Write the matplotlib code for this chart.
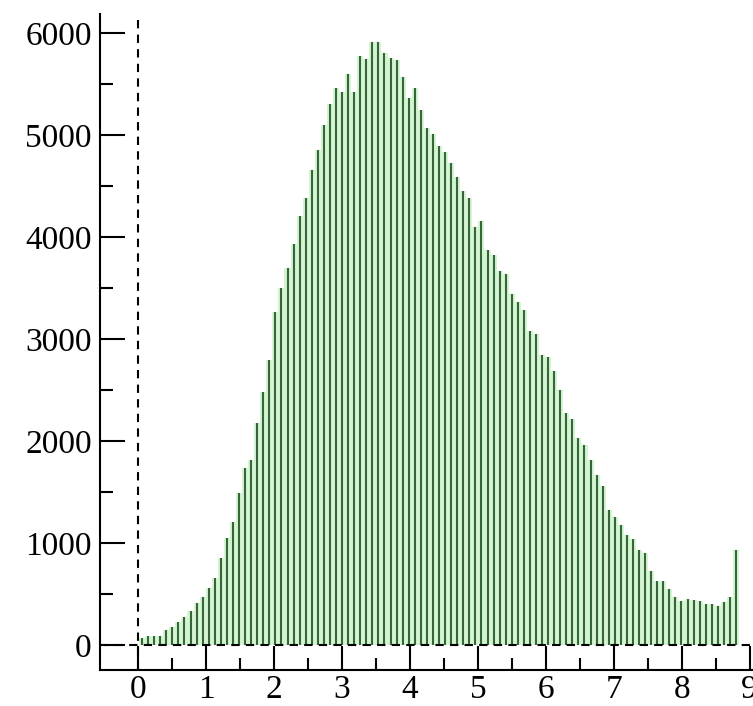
import numpy as np
import matplotlib
matplotlib.use("Agg")
import matplotlib.pyplot as plt
from matplotlib.ticker import MultipleLocator, FixedLocator

# bin centres run from ~0.055 to ~8.8 (99 bins)
x_first = 0.055
x_last = 8.80

# counts, left to right
counts = [
    65, 85, 85, 85, 147, 180, 229, 278, 333, 415,
    474, 556, 654, 850, 1046, 1203, 1487, 1732, 1814, 2173,
    2477, 2794, 3262, 3497, 3693, 3928, 4206, 4385, 4657, 4853,
    5098, 5304, 5458, 5422, 5600, 5419, 5777, 5746, 5912, 5912,
    5808, 5755, 5732, 5572, 5360, 5463, 5245, 5073, 5008, 4888,
    4833, 4727, 4591, 4451, 4385, 4101, 4162, 3870, 3827, 3670,
    3634, 3438, 3360, 3282, 3080, 3046, 2843, 2827, 2690, 2500,
    2277, 2219, 2026, 1965, 1810, 1671, 1555, 1324, 1258, 1176,
    1078, 1042, 931, 899, 728, 630, 627, 552, 470, 430,
    453, 441, 434, 402, 402, 382, 425, 473, 931,
]

x_ticks = list(range(10))
x_minor = [0.5, 1.5, 2.5, 3.5, 4.5, 5.5, 6.5, 7.5, 8.5]
y_ticks = [0, 1000, 2000, 3000, 4000, 5000, 6000]

centres = np.linspace(x_first, x_last, len(counts))
width = centres[1] - centres[0]

fig = plt.figure(figsize=(7.53, 7.06), dpi=100)
ax = fig.add_axes([0.1328, 0.051, 0.8672, 0.929])

# light fill plus dark sticks, like the original impulse plot
ax.bar(centres, counts, width=width, color="#d4f4d4", linewidth=0, zorder=1)
ax.vlines(centres, 0, counts, color="#356635", linewidth=1.5, zorder=2)

# dashed zero lines
ax.axhline(0, color="black", linestyle=(0, (4, 3)), linewidth=1.5, zorder=3)
ax.axvline(0, color="black", linestyle=(0, (4, 3)), linewidth=1.5, zorder=3)

ax.set_xlim(-0.564, 9.05)
ax.set_ylim(-245, 6186)

for side in ["top", "right"]:
    ax.spines[side].set_visible(False)
for side in ["left", "bottom"]:
    ax.spines[side].set_linewidth(1.5)

ax.set_xticks(x_ticks)
ax.set_yticks(y_ticks)
ax.xaxis.set_minor_locator(FixedLocator(x_minor))
ax.yaxis.set_minor_locator(MultipleLocator(500))
ax.tick_params(which="major", direction="in", length=17, width=1.5)
ax.tick_params(which="minor", direction="in", length=9, width=1.5)
ax.tick_params(axis="x", which="major", pad=3)
ax.tick_params(axis="y", which="major", length=18, pad=6)

for lab in ax.get_xticklabels() + ax.get_yticklabels():
    lab.set_fontfamily("Liberation Serif")
    lab.set_fontsize(24)

fig.savefig("out.png", dpi=100)
